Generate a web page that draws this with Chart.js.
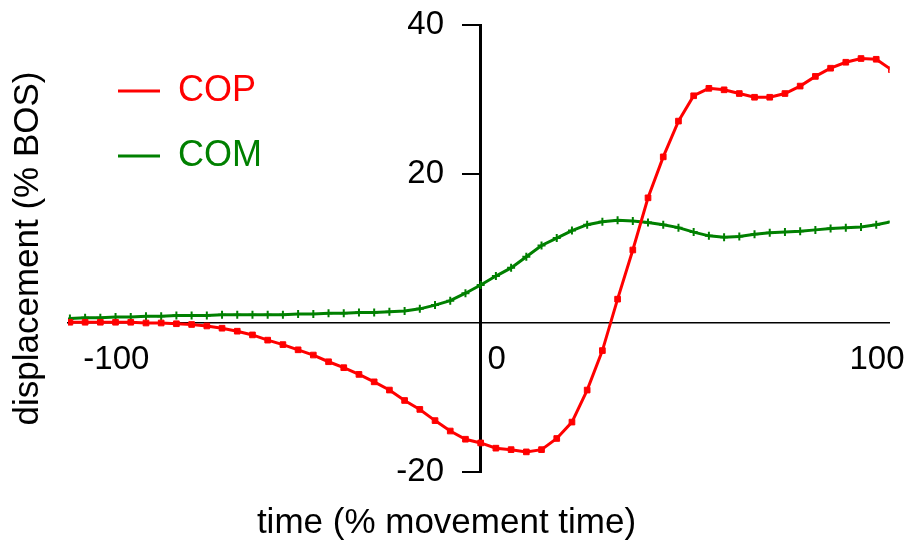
<!DOCTYPE html>
<html>
<head>
<meta charset="utf-8">
<script src="https://cdn.jsdelivr.net/npm/chart.js@4"></script>
<style>
    body { margin: 0; background: #ffffff; }
</style>
</head>
<body>
<canvas id="displacementChart" width="906" height="546"></canvas>
<script>
// time in % movement time
var timeValues = [
    -108, -104, -100, -96, -92, -88, -84, -80, -76, -72, -68, -64, -60, -56,
    -52, -48, -44, -40, -36, -32, -28, -24, -20, -16, -12, -8, -4, 0,
    4, 8, 12, 16, 20, 24, 28, 32, 36, 40, 44, 48, 52, 56,
    60, 64, 68, 72, 76, 80, 84, 88, 92, 96, 100, 104, 108
];
// displacement in % BOS
var copValues = [
    0.1, 0.1, 0.1, 0.1, 0.1, 0.0, 0.0, -0.1, -0.2, -0.4, -0.7, -1.1, -1.6, -2.3,
    -2.9, -3.6, -4.3, -5.2, -6.0, -6.9, -7.9, -9.0, -10.4, -11.6, -13.1, -14.5, -15.6, -16.1,
    -16.8, -17.0, -17.3, -17.0, -15.5, -13.3, -9.0, -3.7, 3.2, 9.8, 16.8, 22.3, 27.1, 30.5,
    31.5, 31.3, 30.8, 30.3, 30.3, 30.8, 31.8, 33.1, 34.2, 35.0, 35.5, 35.4, 34.0
];
var comValues = [
    0.6, 0.7, 0.7, 0.8, 0.8, 0.9, 0.9, 1.0, 1.0, 1.0, 1.1, 1.1, 1.1, 1.1,
    1.1, 1.2, 1.2, 1.3, 1.3, 1.4, 1.4, 1.5, 1.6, 1.9, 2.4, 3.0, 4.0, 5.1,
    6.3, 7.4, 8.9, 10.4, 11.4, 12.4, 13.2, 13.6, 13.8, 13.7, 13.5, 13.2, 12.8, 12.2,
    11.7, 11.5, 11.6, 11.9, 12.1, 12.2, 12.3, 12.5, 12.7, 12.8, 12.9, 13.2, 13.6
];
var xTicks = [-100, 0, 100];
var yTicks = [-20, 20, 40];

var fontFamily = "'Liberation Sans', Arial, sans-serif";

function toPoints(values) {
    return timeValues.map(function (t, i) {
        return { x: t, y: values[i] };
    });
}

// the legend sits inside the plot, a little in from the left edge
var legendNudge = {
    id: "legendNudge",
    afterLayout: function (chart) {
        chart.legend.left += 21;
    },
};

new Chart("displacementChart", {
    type: "scatter",
    data: {
        datasets: [
            {
                label: "COP",
                data: toPoints(copValues),
                showLine: true,
                borderColor: "#ff0000",
                backgroundColor: "#ff0000",
                borderWidth: 3,
                pointStyle: "rect",
                pointRadius: 4,
                pointBorderWidth: 1,
                tension: 0,
            },
            {
                label: "COM",
                data: toPoints(comValues),
                showLine: true,
                borderColor: "#008000",
                backgroundColor: "#008000",
                borderWidth: 3,
                pointStyle: "cross",
                pointRadius: 4,
                pointBorderWidth: 2,
                tension: 0,
            },
        ],
    },
    options: {
        responsive: false,
        animation: false,
        layout: {
            padding: { top: 25, right: 13, left: 0, bottom: 0 },
        },
        scales: {
            x: {
                type: "linear",
                min: -108.5,
                max: 107.5,
                position: { y: 0 },
                grid: { display: false, drawTicks: false },
                border: { color: "#000000", width: 1.5 },
                afterBuildTicks: function (axis) {
                    axis.ticks = xTicks.map(function (v) { return { value: v }; });
                },
                ticks: {
                    color: "#000000",
                    font: { family: fontFamily, size: 33 },
                    padding: 17,
                    labelOffset: 16,
                    maxRotation: 0,
                },
            },
            y: {
                type: "linear",
                min: -20,
                max: 40,
                position: { x: 0 },
                grid: {
                    drawOnChartArea: false,
                    color: "#000000",
                    lineWidth: 2,
                    tickLength: 17,
                },
                border: { color: "#000000", width: 3 },
                afterBuildTicks: function (axis) {
                    axis.ticks = yTicks.map(function (v) { return { value: v }; });
                },
                ticks: {
                    color: "#000000",
                    font: { family: fontFamily, size: 33 },
                    padding: 0,
                    // labels on a centred axis sit right on the line; pad them clear of the tick marks
                    callback: function (value) {
                        return value + "    ";
                    },
                },
            },
        },
        plugins: {
            legend: {
                position: "chartArea",
                align: "start",
                title: {
                    display: true,
                    text: " ",
                    font: { size: 10 },
                    padding: { top: 32, bottom: 0 },
                },
                labels: {
                    font: { family: fontFamily, size: 36 },
                    boxWidth: 42,
                    boxHeight: 3,
                    padding: 29,
                    generateLabels: function (chart) {
                        var items = Chart.defaults.plugins.legend.labels.generateLabels(chart);
                        items.forEach(function (item) {
                            item.fontColor = chart.data.datasets[item.datasetIndex].borderColor;
                            item.lineWidth = 0;
                        });
                        return items;
                    },
                },
            },
            title: {
                display: true,
                position: "bottom",
                text: "time (% movement time)",
                color: "#000000",
                font: { family: fontFamily, size: 35, weight: "normal" },
                padding: { top: 30, bottom: 2 },
            },
            subtitle: {
                display: true,
                position: "left",
                fullSize: false,
                text: "displacement (% BOS)",
                color: "#000000",
                font: { family: fontFamily, size: 35 },
                padding: { top: 7, bottom: 19 },
            },
            tooltip: { enabled: false },
        },
    },
    plugins: [legendNudge],
});
</script>
</body>
</html>
